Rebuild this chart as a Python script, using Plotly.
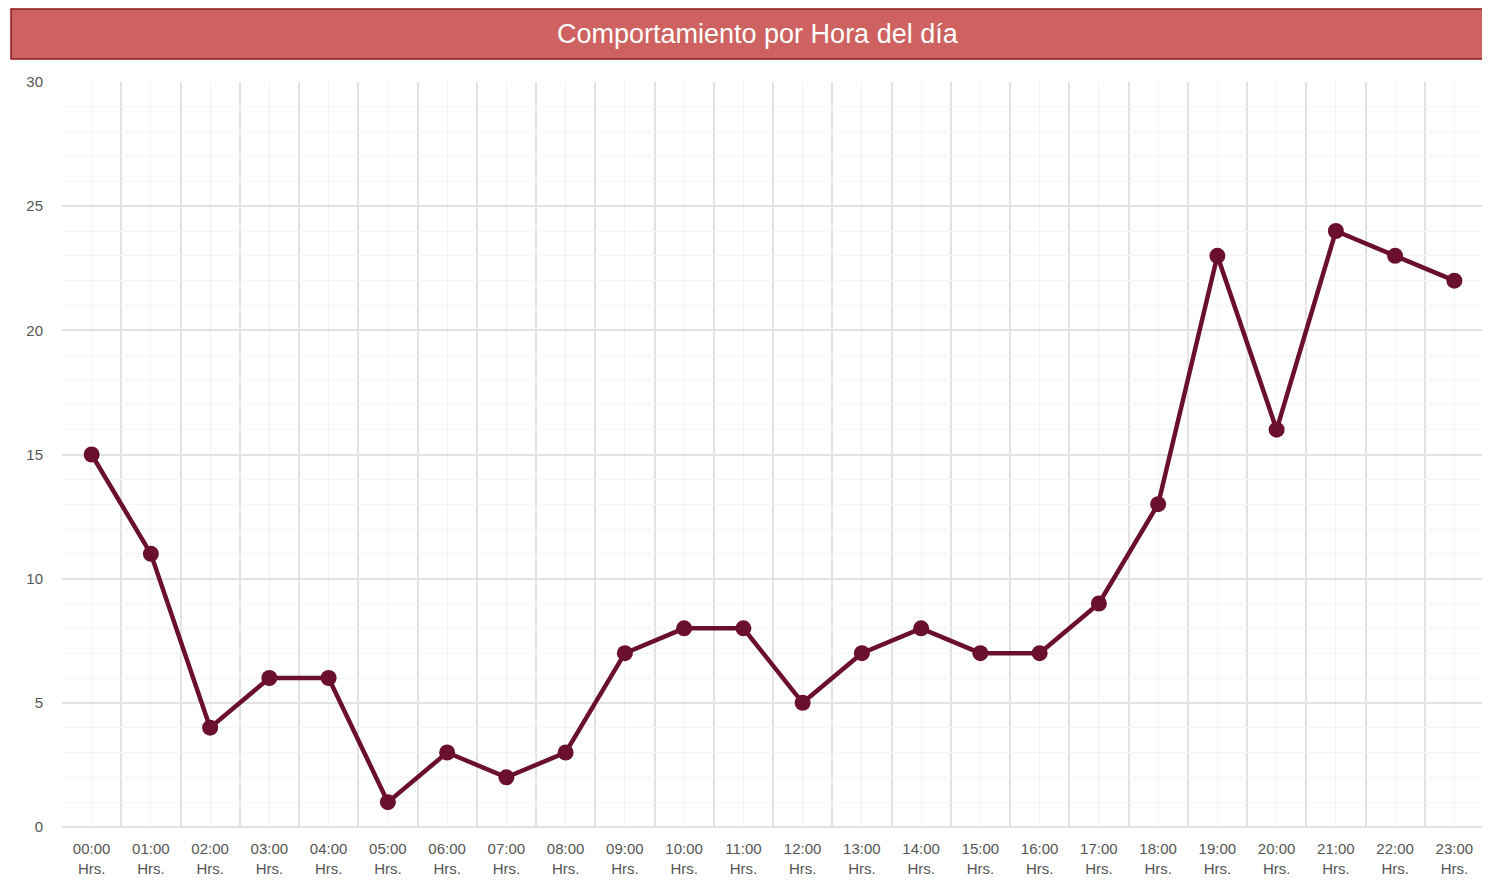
import plotly.graph_objects as go

hours = ["00:00", "01:00", "02:00", "03:00", "04:00", "05:00", "06:00", "07:00",
         "08:00", "09:00", "10:00", "11:00", "12:00", "13:00", "14:00", "15:00",
         "16:00", "17:00", "18:00", "19:00", "20:00", "21:00", "22:00", "23:00"]
values = [15, 11, 4, 6, 6, 1, 3, 2, 3, 7, 8, 8, 5, 7, 8, 7, 7, 9, 13, 23, 16, 24, 23, 22]
tick_labels = [h + "<br>Hrs." for h in hours]
title = "Comportamiento por Hora del día"

x = list(range(len(hours)))

fig = go.Figure()
fig.add_trace(go.Scatter(
    x=x, y=values, mode="lines+markers",
    line=dict(color="#6B0F2E", width=4.5),
    marker=dict(color="#6B0F2E", size=16),
    hoverinfo="skip",
))

OFF = 8  # default page body margin
W, H = 1490 - OFF, 882 - OFF
ml, mr, mt = 62 - OFF, 6, 82 - OFF
mb = H - (827 - OFF)
pw, ph = W - ml - mr, H - mt - mb

def px(xp):
    return (xp - OFF - ml) / pw

def py(yp):
    return (H - mb - (yp - OFF)) / ph

fig.add_shape(type="rect", xref="paper", yref="paper",
              x0=px(11), x1=px(1489), y0=py(59), y1=py(9),
              fillcolor="#CD6260", line=dict(color="#8B1A1A", width=1.5), layer="above")
fig.add_annotation(xref="paper", yref="paper", x=px(758), y=py(34),
                   xanchor="center", yanchor="middle",
                   text=title, showarrow=False,
                   font=dict(family="Liberation Sans, Arial", size=27, color="white"))

fig.update_layout(
    width=W, height=H,
    margin=dict(l=ml, r=mr, t=mt, b=mb),
    paper_bgcolor="white", plot_bgcolor="white",
    showlegend=False,
    xaxis=dict(
        range=[-0.5, len(hours) - 0.5],
        tickmode="array", tickvals=x, ticktext=tick_labels,
        showgrid=True, gridcolor="#F2F2F2", gridwidth=1,
        minor=dict(tick0=-0.5, dtick=1, showgrid=True, gridcolor="#E2E2E2", gridwidth=1.5),
        zeroline=False, showline=False, ticks="", ticklabelstandoff=11,
        tickfont=dict(family="Liberation Sans, Arial", size=15, color="#555555"),
        automargin=False,
        fixedrange=True,
    ),
    yaxis=dict(
        range=[0, 30], tickmode="linear", tick0=0, dtick=5,
        showgrid=True, gridcolor="#E2E2E2", gridwidth=1.5,
        minor=dict(dtick=1, showgrid=True, gridcolor="#F4F4F4", gridwidth=1),
        zeroline=True, zerolinecolor="#E2E2E2", zerolinewidth=1.5,
        showline=False, ticks="", ticklabelstandoff=18,
        tickfont=dict(family="Liberation Sans, Arial", size=15, color="#555555"),
        automargin=False,
        fixedrange=True,
    ),
)

fig.write_html("out.html")
